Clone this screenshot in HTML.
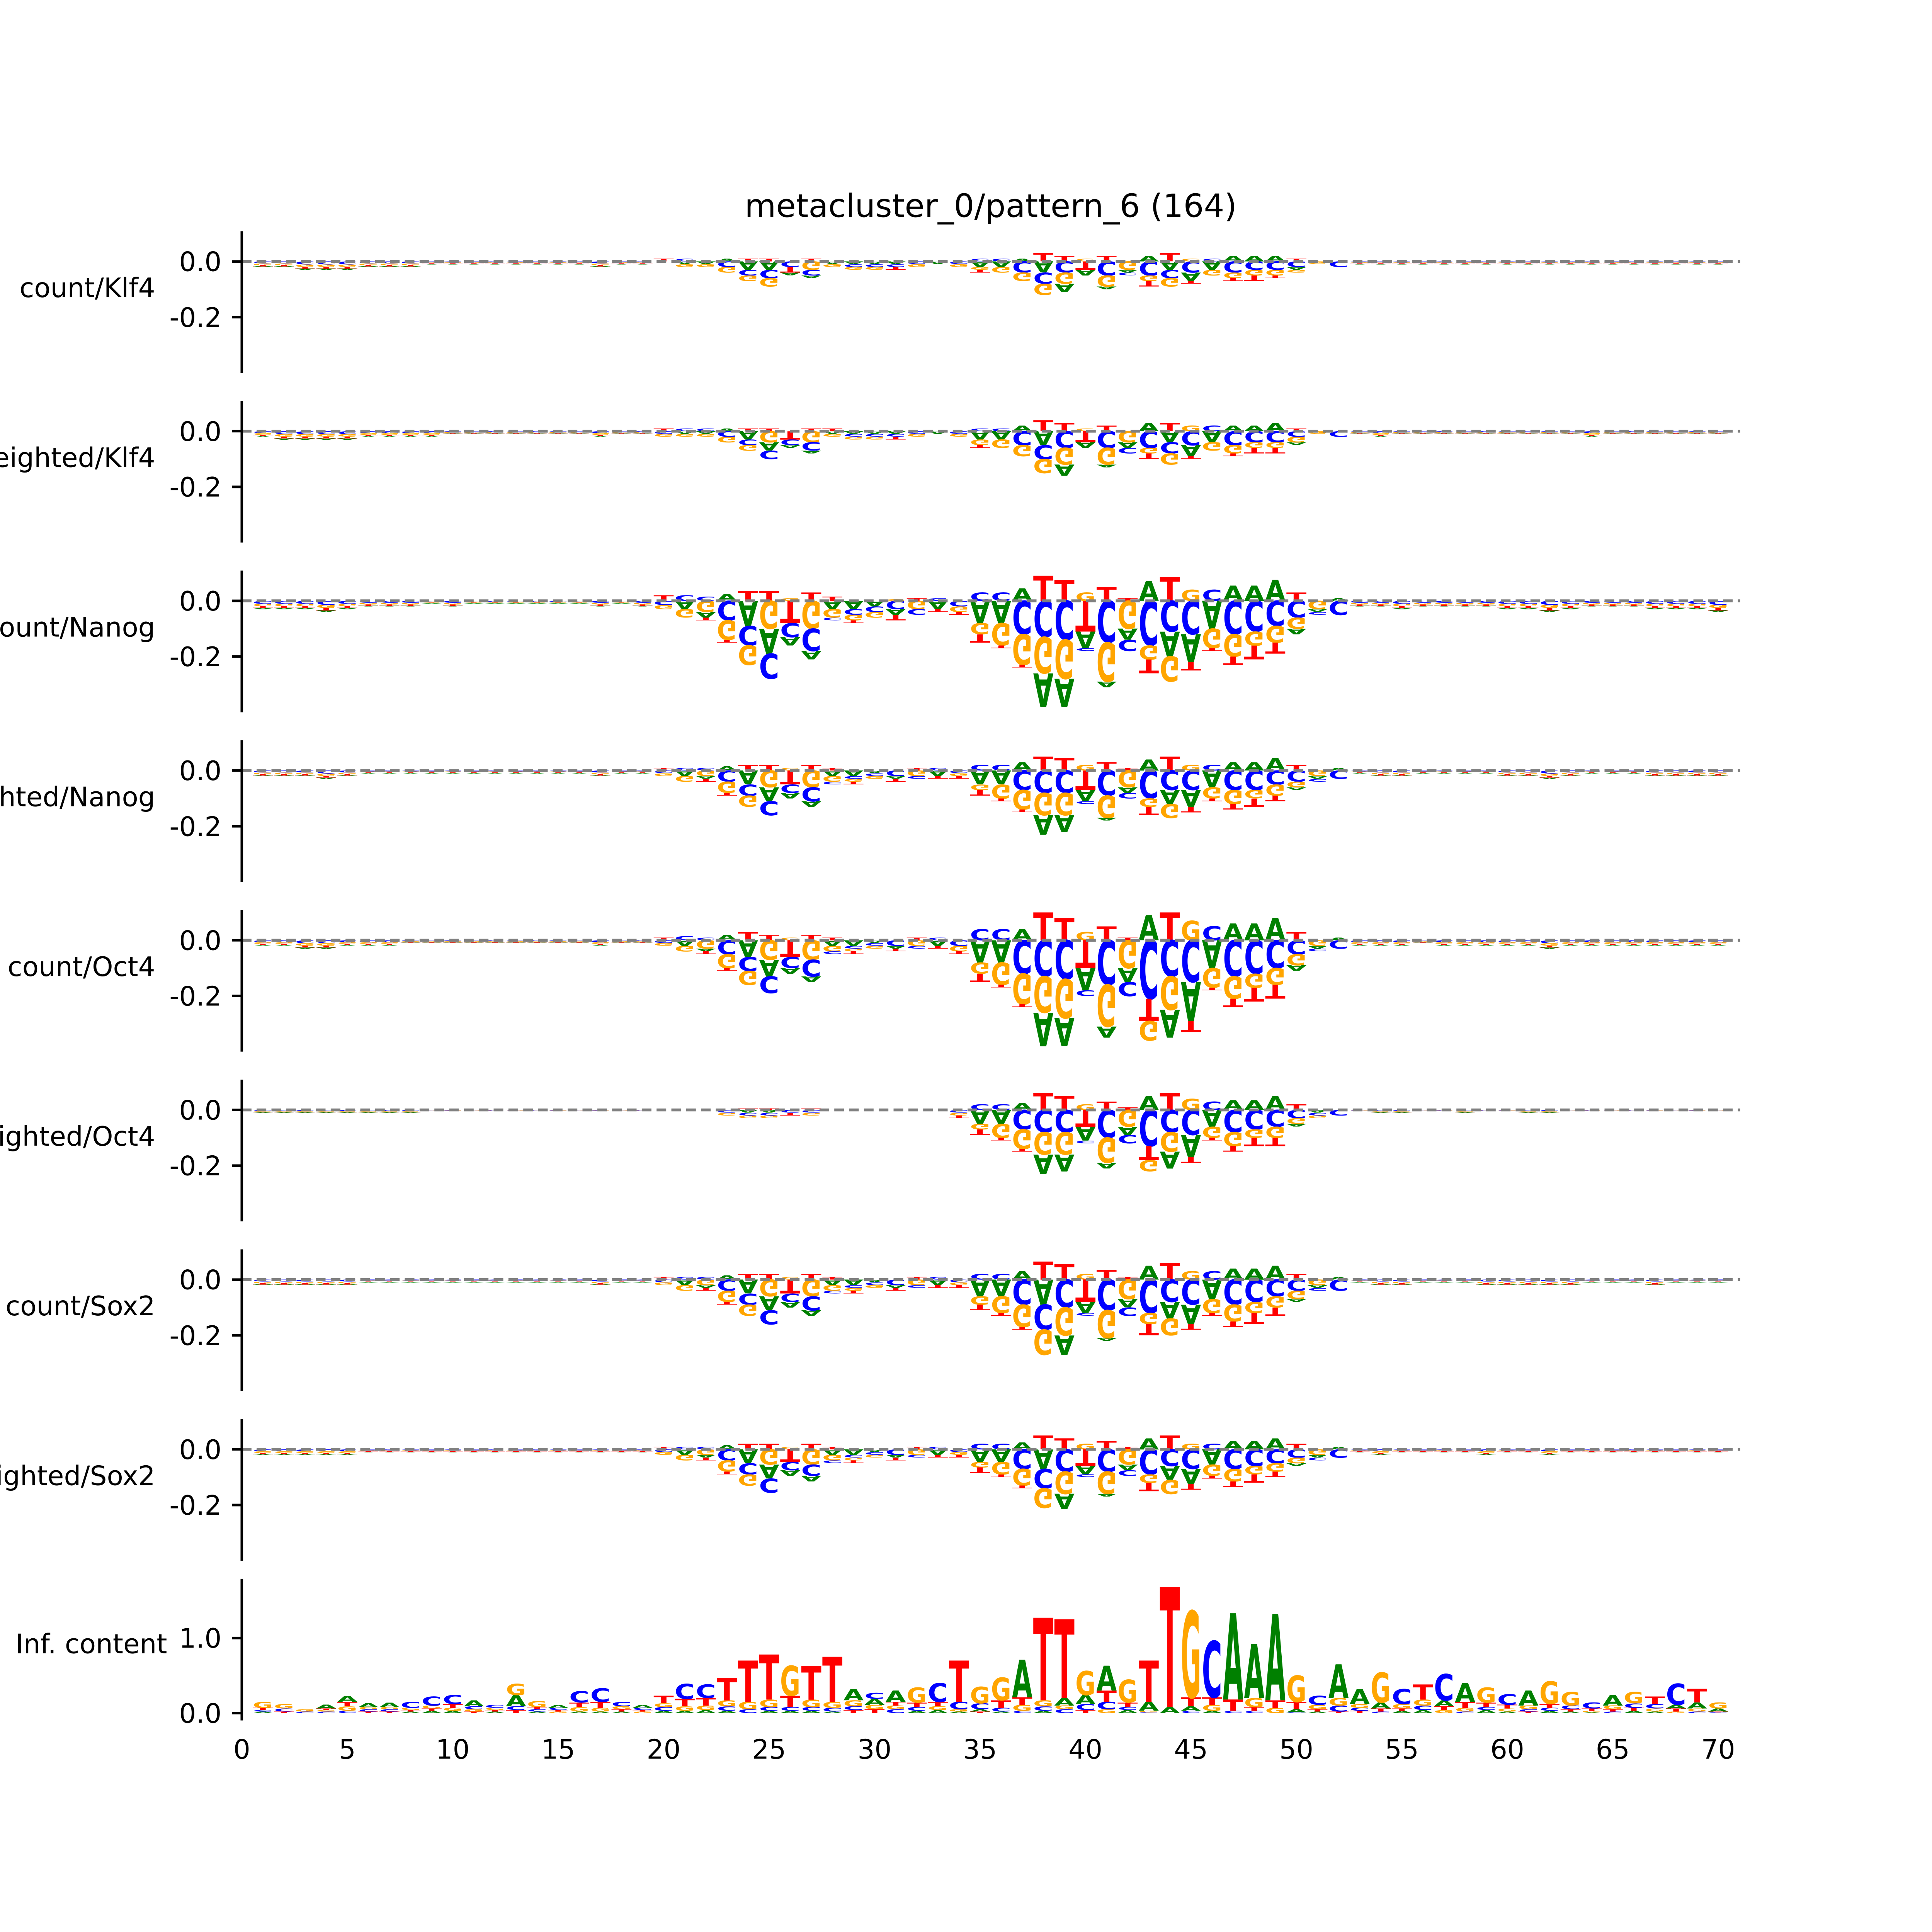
<!DOCTYPE html>
<html><head><meta charset="utf-8"><style>
html,body{margin:0;padding:0;background:#fff;overflow:hidden;}
svg{display:block;width:100vw;height:100vw;}
text{font-family:"DejaVu Sans","Liberation Sans",sans-serif;}
</style></head><body>
<svg id="fig" viewBox="0 0 6000 6000" preserveAspectRatio="xMinYMin meet" xmlns="http://www.w3.org/2000/svg">
<rect width="6000" height="6000" fill="#fff"/>
<text x="3077" y="674" font-size="100" text-anchor="middle">metacluster_0/pattern_6 (164)</text>
<g id="plots"></g>
</svg>
<script>
// window covers positions 20..52
const winStart = 20;
const panelLabels = ['count/Klf4','weighted/Klf4','count/Nanog','weighted/Nanog','count/Oct4','weighted/Oct4','count/Sox2','weighted/Sox2'];
const yTickVals = [0, -0.2];
const yTickLabels = ['0.0','-0.2'];
const icTickVals = [0, 1];
const icTickLabels = ['0.0','1.0'];
const xTickVals = [0,5,10,15,20,25,30,35,40,45,50,55,60,65,70];
const xTickLabels = ['0','5','10','15','20','25','30','35','40','45','50','55','60','65','70'];

const klf4CountA=[0,-.01,-.01,.01,-.03,-.03,-.01,-.01,-.01,-.01,-.01,-.01,0,-.01,0,-.02,-.02,.01,-.04,-.03,-.02,-.01,-.01,.02,-.03,-.03,-.03,.02,.02,.02,-.01,0,0];
const klf4CountC=[0,.01,0,-.02,-.02,-.03,-.02,-.02,0,-.01,-.01,-.01,-.01,0,-.01,.01,.01,-.04,-.04,-.04,0,-.05,-.01,-.05,-.03,-.04,.01,-.04,-.03,-.03,-.02,0,-.02];
const klf4CountG=[0,-.01,-.01,-.02,-.02,-.03,0,-.03,-.01,-.01,-.01,0,-.01,0,-.01,-.01,-.02,-.03,-.04,-.04,.01,-.04,-.03,-.02,-.03,.01,-.02,-.02,-.02,-.02,-.01,-.01,0];
const klf4CountT=[.01,0,0,0,.01,.01,-.02,.01,0,0,0,-.01,0,0,0,-.01,0,0,.03,.02,-.03,.02,0,-.02,.03,-.01,0,-.01,-.02,-.01,.01,0,0];
const klf4CountFL=[-.02,-.02,-.03,-.03,-.03,-.02,-.02,-.02,-.01,-.01,-.01,-.01,-.01,-.01,-.01,-.01,-.02,-.01,-.01];
const klf4CountFR=[-.01,-.01,-.01,-.01,-.01,-.01,-.01,-.01,-.01,-.01,-.01,-.01,-.01,-.01,-.01,-.01,-.01,-.01];

const klf4WA=[0,-.01,-.01,.01,-.03,-.03,-.01,-.01,-.01,-.01,-.01,-.01,0,-.01,0,-.03,-.03,.02,-.05,-.04,-.02,-.01,-.02,.03,-.04,-.04,-.04,.02,.02,.03,-.01,0,0];
const klf4WC=[-.01,.01,.01,-.02,-.02,-.03,-.02,-.03,0,-.01,-.01,-.01,-.01,0,-.01,.01,.01,-.05,-.05,-.06,0,-.06,-.02,-.06,-.04,-.05,.02,-.05,-.04,-.04,-.02,0,-.02];
const klf4WG=[-.01,-.01,-.01,-.02,-.02,-.04,0,-.04,-.01,-.01,-.01,0,-.01,0,-.01,-.02,-.03,-.04,-.05,-.06,.01,-.06,-.04,-.02,-.04,.02,-.03,-.03,-.02,-.02,-.02,-.01,0];
const klf4WT=[.01,0,0,0,.01,.01,-.03,.01,.01,0,0,-.01,0,0,0,-.01,0,0,.04,.03,-.04,.02,0,-.02,.03,-.01,0,-.01,-.02,-.02,.01,0,0];
const klf4WFL=[-.02,-.03,-.03,-.03,-.03,-.02,-.02,-.02,-.02,-.01,-.01,-.01,-.01,-.01,-.01,-.01,-.02,-.01,-.01];
const klf4WFR=[-.01,-.02,-.01,-.01,-.01,-.01,-.01,-.01,-.01,-.01,-.01,-.02,-.01,-.01,-.01,-.01,-.01,-.01];

const nanogCountA=[0,-.03,-.02,.025,-.09,-.09,-.03,-.03,-.03,-.03,-.02,-.02,0,-.03,0,-.08,-.08,.045,-.12,-.1,-.06,-.02,-.04,.07,-.09,-.1,-.1,.055,.055,.075,-.02,-.01,.01];
const nanogCountC=[-.015,.02,.015,-.07,-.07,-.09,-.05,-.08,-.01,-.02,-.02,-.03,-.02,.01,-.02,.03,.03,-.12,-.13,-.14,-.01,-.15,-.04,-.16,-.11,-.12,.04,-.12,-.11,-.09,-.06,-.01,-.05];
const nanogCountG=[-.015,-.03,-.04,-.07,-.07,-.1,.01,-.1,-.03,-.02,-.02,.005,-.03,0,-.02,-.04,-.08,-.11,-.13,-.14,.03,-.14,-.1,-.05,-.09,.04,-.07,-.08,-.05,-.06,-.04,-.03,0];
const nanogCountT=[.02,0,-.01,-.01,.035,.035,-.08,.03,.015,-.01,0,-.02,.01,-.01,-.01,-.03,-.01,-.01,.09,.075,-.11,.05,.01,-.05,.085,-.03,-.01,-.03,-.05,-.04,.03,0,0];
const nanogCountFL=[-.03,-.03,-.03,-.04,-.03,-.02,-.02,-.02,-.01,-.02,-.01,-.01,-.01,-.01,-.01,-.01,-.02,-.01,-.02];
const nanogCountFR=[-.02,-.02,-.03,-.02,-.02,-.02,-.02,-.03,-.03,-.04,-.03,-.02,-.02,-.02,-.03,-.03,-.03,-.04];

const nanogWA=[0,-.02,-.01,.015,-.05,-.05,-.02,-.02,-.02,-.02,-.01,-.01,0,-.02,0,-.05,-.05,.03,-.07,-.06,-.04,-.01,-.02,.04,-.05,-.06,-.06,.03,.03,.045,-.01,-.01,.01];
const nanogWC=[-.01,.01,.01,-.04,-.04,-.05,-.03,-.05,-.01,-.01,-.01,-.02,-.01,.01,-.01,.02,.02,-.07,-.08,-.08,-.01,-.09,-.02,-.1,-.07,-.07,.02,-.07,-.07,-.05,-.04,-.01,-.03];
const nanogWG=[-.01,-.02,-.02,-.04,-.04,-.06,.01,-.06,-.02,-.01,-.01,0,-.02,0,-.01,-.02,-.05,-.07,-.08,-.08,.02,-.08,-.06,-.03,-.05,.02,-.04,-.05,-.03,-.04,-.02,-.02,0];
const nanogWT=[.01,0,-.01,-.01,.02,.02,-.05,.02,.01,-.01,0,-.01,.01,-.01,-.01,-.02,-.01,-.01,.05,.045,-.07,.03,.01,-.03,.05,-.02,-.01,-.02,-.03,-.02,.02,0,0];
const nanogWFL=[-.02,-.02,-.02,-.03,-.02,-.01,-.01,-.01,-.01,-.01,-.01,-.01,-.01,-.01,-.01,-.01,-.02,-.01,-.01];
const nanogWFR=[-.01,-.02,-.02,-.01,-.01,-.01,-.01,-.02,-.02,-.03,-.02,-.01,-.01,-.01,-.02,-.02,-.02,-.02];

const oct4CountA=[0,-.02,-.01,.02,-.06,-.06,-.02,-.02,-.02,-.02,-.01,-.01,0,-.02,0,-.08,-.08,.04,-.12,-.1,-.08,-.04,-.05,.09,-.1,-.14,-.1,.06,.06,.08,-.02,-.01,.01];
const oct4CountC=[-.01,.015,.01,-.05,-.05,-.06,-.04,-.06,-.01,-.01,-.01,-.02,-.01,.01,-.02,.04,.04,-.12,-.13,-.14,-.02,-.16,-.05,-.21,-.13,-.15,.05,-.13,-.12,-.1,-.05,-.01,-.03];
const oct4CountG=[-.01,-.02,-.03,-.05,-.05,-.07,.01,-.07,-.02,-.01,-.01,0,-.02,0,-.02,-.04,-.08,-.11,-.13,-.14,.03,-.15,-.1,-.07,-.12,.07,-.07,-.08,-.05,-.06,-.04,-.02,0];
const oct4CountT=[.01,0,-.01,-.01,.03,.02,-.06,.02,.01,-.01,0,-.01,.01,-.01,-.01,-.03,-.01,-.01,.1,.08,-.1,.05,.01,-.08,.1,-.04,-.01,-.03,-.05,-.05,.03,0,0];
const oct4CountFL=[-.02,-.02,-.03,-.03,-.02,-.02,-.02,-.01,-.01,-.01,-.01,-.01,-.01,-.01,-.01,-.01,-.02,-.01,-.01];
const oct4CountFR=[-.02,-.02,-.02,-.01,-.02,-.02,-.02,-.02,-.02,-.03,-.02,-.02,-.02,-.02,-.02,-.02,-.02,-.02];

const oct4WA=[0,0,0,0,-.01,-.01,0,0,0,0,0,0,0,0,0,-.05,-.05,.025,-.07,-.06,-.05,-.02,-.03,.05,-.06,-.08,-.06,.035,.035,.05,-.01,-.01,0];
const oct4WC=[0,0,0,-.01,-.01,-.01,-.01,-.01,0,0,0,0,0,0,-.01,.02,.02,-.07,-.08,-.08,-.01,-.1,-.03,-.13,-.08,-.09,.03,-.08,-.07,-.06,-.03,-.01,-.02];
const oct4WG=[0,0,0,-.01,-.01,-.01,0,-.01,0,0,0,0,0,0,-.01,-.02,-.05,-.07,-.08,-.08,.02,-.09,-.06,-.04,-.07,.04,-.04,-.05,-.03,-.04,-.02,-.01,0];
const oct4WT=[0,0,0,0,.005,.005,-.01,.005,0,0,0,0,0,0,-.01,-.02,-.01,-.01,.06,.05,-.06,.03,.01,-.05,.06,-.02,-.01,-.02,-.03,-.03,.02,0,0];
const oct4WFL=[-.01,-.01,-.01,-.01,-.01,-.01,-.01,-.01,-.005,-.005,-.005,-.005,-.005,-.005,-.005,-.005,-.005,-.005,-.005];
const oct4WFR=[-.005,-.01,-.01,-.005,-.005,-.01,-.005,-.005,-.01,-.01,-.005,-.005,-.005,-.005,-.005,-.005,-.005,-.005];

const sox2CountA=[0,-.02,-.01,.015,-.05,-.05,-.02,-.02,-.02,-.02,-.01,-.01,0,-.02,0,-.06,-.06,.03,-.09,-.07,-.04,-.01,-.03,.05,-.06,-.07,-.07,.04,.04,.05,-.01,-.01,.01];
const sox2CountC=[-.01,.01,.01,-.04,-.04,-.05,-.03,-.05,-.01,-.01,-.01,-.02,-.01,.01,-.01,.02,.02,-.09,-.09,-.1,-.01,-.11,-.03,-.12,-.08,-.09,.03,-.09,-.08,-.06,-.04,-.01,-.04];
const sox2CountG=[-.01,-.02,-.02,-.04,-.04,-.06,.01,-.06,-.02,-.01,-.01,0,-.02,0,-.01,-.03,-.06,-.08,-.09,-.1,.02,-.1,-.07,-.04,-.06,.03,-.05,-.06,-.04,-.04,-.03,-.02,0];
const sox2CountT=[.01,0,-.01,-.01,.02,.02,-.05,.02,.01,-.01,0,-.01,.01,-.01,-.01,-.02,-.01,-.01,.065,.055,-.08,.035,.01,-.04,.06,-.02,-.01,-.02,-.04,-.03,.02,0,0];
const sox2CountFL=[-.02,-.02,-.02,-.02,-.02,-.01,-.01,-.01,-.01,-.01,-.01,-.01,-.01,-.01,-.01,-.01,-.02,-.01,-.01];
const sox2CountFR=[-.01,-.02,-.02,-.01,-.01,-.01,-.02,-.02,-.02,-.02,-.02,-.01,-.01,-.01,-.02,-.01,-.01,-.01];

const sox2WA=[0,-.02,-.01,.015,-.05,-.05,-.02,-.02,-.02,-.02,-.01,-.01,0,-.02,0,-.045,-.045,.025,-.07,-.055,-.03,-.01,-.02,.04,-.05,-.055,-.055,.03,.03,.04,-.01,-.01,.01];
const sox2WC=[-.01,.01,.01,-.04,-.04,-.05,-.03,-.04,-.01,-.01,-.01,-.02,-.01,.01,-.01,.02,.02,-.07,-.07,-.08,-.01,-.08,-.02,-.09,-.06,-.07,.02,-.07,-.06,-.05,-.03,-.01,-.03];
const sox2WG=[-.01,-.02,-.02,-.04,-.04,-.055,.01,-.055,-.02,-.01,-.01,0,-.02,0,-.01,-.02,-.045,-.06,-.07,-.08,.02,-.08,-.055,-.03,-.05,.02,-.04,-.045,-.03,-.03,-.02,-.02,0];
const sox2WT=[.01,0,-.01,-.01,.02,.02,-.045,.02,.01,-.01,0,-.01,.01,-.01,-.01,-.02,-.01,-.01,.05,.04,-.06,.03,.01,-.03,.05,-.02,-.01,-.02,-.03,-.02,.02,0,0];
const sox2WFL=[-.02,-.02,-.02,-.02,-.02,-.01,-.01,-.01,-.01,-.01,-.01,-.01,-.01,-.01,-.01,-.01,-.01,-.01,-.01];
const sox2WFR=[-.01,-.02,-.01,-.01,-.01,-.01,-.02,-.01,-.01,-.02,-.01,-.01,-.01,-.01,-.01,-.01,-.01,-.01];

// information content, positions 1..70
const icA=[.02,0,0,.05,.08,.05,.06,.02,.03,.03,.08,.02,.15,.02,.04,.02,.02,.02,.04,.03,.03,.04,.03,0,.03,.03,.03,.02,.15,.08,.15,.03,.04,.02,.03,.02,.5,.03,.1,.12,.33,.04,.12,.08,.06,.03,1.15,.72,1.15,.04,.02,.45,.2,.08,.03,.04,.08,.25,.04,.02,.2,.03,.02,.01,.14,.03,.02,.05,.08,.04];
const icC=[.02,.04,.02,.02,.03,.03,.03,.08,.12,.12,.04,.04,.05,.03,.03,.15,.18,.06,.03,.05,.2,.18,.06,.05,.05,.05,.05,.05,.05,.08,.05,.05,.25,.1,.08,.05,.03,.06,.05,.08,.1,.04,.01,0,.03,.75,.03,.03,0,.01,.12,.08,.04,.02,.2,.06,.35,.02,.04,.14,.03,.04,.05,.08,.02,.06,.06,.28,.02,.01];
const icG=[.08,.06,.03,.02,.06,.03,.03,.03,.04,.04,.03,.03,.15,.08,.02,.06,.05,.04,.02,.05,.06,.06,.08,.1,.1,.4,.1,.08,.08,.06,.05,.2,.05,.03,.22,.3,.08,.08,.05,.32,.05,.3,.02,0,1.15,.08,0,.12,.07,.35,.06,.1,.05,.4,.06,.08,.04,.05,.2,.04,.05,.3,.18,.02,.05,.15,.04,.02,.04,.08];
const icT=[.03,.02,0,.02,.06,.02,.02,.02,.03,.05,.02,.02,.04,.03,.02,.06,.08,.03,.02,.1,.1,.1,.3,.55,.6,.15,.45,.6,.04,.05,.05,.06,.06,.55,.02,.1,.1,1.1,1.05,.04,.15,.06,.55,1.6,.12,.1,.15,.05,.1,.1,.03,.02,.03,.04,.03,.2,.05,.08,.06,.05,.02,.05,.03,.03,.03,.04,.1,.04,.18,.01];

const COLORS={A:'#008000',C:'#0000ff',G:'#ffa500',T:'#ff0000'};
const ADV={A:0.774,C:0.734,G:0.821,T:0.682};
const X0=751, UW=65.5, XEND=5404;
const NS='http://www.w3.org/2000/svg';
const root=document.getElementById('plots');
function xs(p){return X0+p*UW;}
function mk(tag,attrs,parent){const e=document.createElementNS(NS,tag);for(const k in attrs)e.setAttribute(k,attrs[k]);(parent||root).appendChild(e);return e;}

function drawLetter(g,base,pos,yStart,hpx,down){
  if(hpx<0.6)return;
  const bw=0.96*UW, xl=xs(pos)-bw/2;
  const sx=bw/(ADV[base]*100), sy=hpx/72.9;
  const t=mk('text',{x:0,y:0,'font-size':100,'font-weight':'bold',fill:COLORS[base],
    transform:'translate('+xl.toFixed(1)+','+yStart.toFixed(1)+') scale('+sx.toFixed(4)+','+((down?-1:1)*sy).toFixed(4)+')'},g);
  
  
  t.textContent=base;
}
function drawStack(g,pos,vals,Z,S){
  const pos_=vals.filter(v=>v[1]>0).sort((a,b)=>a[1]-b[1]);
  let y=Z;
  for(const [b,v] of pos_){const h=v*S;drawLetter(g,b,pos,y,h,false);y-=h;}
  y=Z;
  const negSorted=vals.filter(v=>v[1]<0).sort((a,b)=>Math.abs(b[1])-Math.abs(a[1]));
  for(const [b,v] of negSorted){const h=-v*S;drawLetter(g,b,pos,y,h,true);y+=h;}
}
function axisLeft(g,Z,S,top,bottom,tv,tl){
  const sp=mk('line',{x1:X0,x2:X0,y1:top,y2:bottom,stroke:'#000','stroke-width':8},g);
  
  
  tv.forEach((v,i)=>{
    const y=Z-v*S;
    const tk=mk('line',{x1:X0-31,x2:X0,y1:y,y2:y,stroke:'#000','stroke-width':8},g);
    
    
    const tx=mk('text',{x:688,y:y+30,'font-size':83,'text-anchor':'end',fill:'#000'},g);
    
    
    tx.textContent=tl[i];
  });
}

const contribSets=[
 [klf4CountA,klf4CountC,klf4CountG,klf4CountT,klf4CountFL,klf4CountFR],
 [klf4WA,klf4WC,klf4WG,klf4WT,klf4WFL,klf4WFR],
 [nanogCountA,nanogCountC,nanogCountG,nanogCountT,nanogCountFL,nanogCountFR],
 [nanogWA,nanogWC,nanogWG,nanogWT,nanogWFL,nanogWFR],
 [oct4CountA,oct4CountC,oct4CountG,oct4CountT,oct4CountFL,oct4CountFR],
 [oct4WA,oct4WC,oct4WG,oct4WT,oct4WFL,oct4WFR],
 [sox2CountA,sox2CountC,sox2CountG,sox2CountT,sox2CountFL,sox2CountFR],
 [sox2WA,sox2WC,sox2WG,sox2WT,sox2WFL,sox2WFR]
];
const FLANK_SPLIT=[['C',0.35],['G',0.3],['T',0.2],['A',0.15]];
const S=865;
contribSets.forEach((set,i)=>{
  const Z=812+527*i;
  const g=mk('g',{});
  
  
  const [A,C,G,T,FL,FR]=set;
  for(let p=1;p<=70;p++){
    let vals=null;
    const wi=p-winStart;
    if(wi>=0&&wi<A.length){vals=[['A',A[wi]],['C',C[wi]],['G',G[wi]],['T',T[wi]]];}
    else{
      const f=p<winStart?FL[p-1]:FR[p-(winStart+A.length)];
      if(f===undefined)continue;
      const order=(p%2)?FLANK_SPLIT:FLANK_SPLIT.slice().reverse();
      vals=order.map(([b,fr])=>[b,f*fr]);
    }
    drawStack(g,p,vals,Z,S);
  }
  const zl=mk('line',{x1:X0,x2:XEND,y1:Z,y2:Z,stroke:'#808080','stroke-width':9,'stroke-dasharray':'30 16'},g);
  
  
  axisLeft(g,Z,S,Z-94,Z+346,yTickVals,yTickLabels);
  const lb=mk('text',{x:482,y:Z+111,'font-size':83,'text-anchor':'end',fill:'#000'},g);
  
  
  lb.textContent=panelLabels[i];
});

// information content panel
(function(){
  const Z=5320, SI=233;
  const g=mk('g',{});
  
  
  for(let p=1;p<=icA.length;p++){
    const k=p-1;
    drawStack(g,p,[['A',icA[k]],['C',icC[k]],['G',icG[k]],['T',icT[k]]],Z,SI);
  }
  axisLeft(g,Z,SI,4903,5343,icTickVals,icTickLabels);
  const lb=mk('text',{x:519,y:5134,'font-size':83,'text-anchor':'end',fill:'#000'},g);
  
  
  lb.textContent='Inf. content';
  xTickVals.forEach((v,i)=>{
    const t=mk('text',{x:xs(v),y:5462,'font-size':83,'text-anchor':'middle',fill:'#000'},g);
    
    
    t.textContent=xTickLabels[i];
  });
})();
</script>
</body></html>
